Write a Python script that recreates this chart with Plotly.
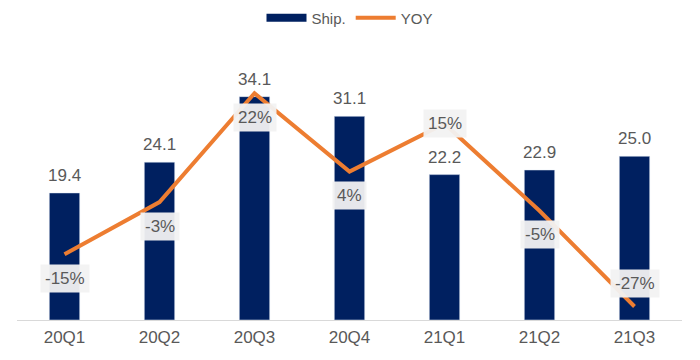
import plotly.graph_objects as go

quarters = ["20Q1", "20Q2", "20Q3", "20Q4", "21Q1", "21Q2", "21Q3"]
ship = [19.4, 24.1, 34.1, 31.1, 22.2, 22.9, 25.0]
yoy = [-15, -3, 22, 4, 15, -5, -27]
yoy_label_place = ["below", "below", "below", "below", "center", "below", "above"]

NAVY = "#002060"
ORANGE = "#ed7d31"
GRAY = "#595959"
FONT = "Liberation Sans, Arial, sans-serif"

fig = go.Figure()
fig.add_trace(go.Bar(x=quarters, y=ship, marker_color=NAVY, width=0.32,
                     showlegend=False, name="Ship.", yaxis="y"))
# legend proxy for ship (wide swatch)
fig.add_trace(go.Scatter(x=[None], y=[None], mode="lines", name="Ship.",
                         line=dict(color=NAVY, width=8), yaxis="y"))
fig.add_trace(go.Scatter(x=quarters, y=yoy, mode="lines", name="YOY",
                         line=dict(color=ORANGE, width=4), yaxis="y2"))

shift_map = {"below": -24, "center": 0, "above": 23}
annotations = []
for q, v in zip(quarters, ship):
    annotations.append(dict(x=q, y=v, xref="x", yref="y", text=f"{v:.1f}",
                            showarrow=False, yanchor="bottom", yshift=6,
                            font=dict(size=17, color=GRAY, family=FONT)))
for q, v, p in zip(quarters, yoy, yoy_label_place):
    annotations.append(dict(x=q, y=v, xref="x", yref="y2", text=f"{v}%",
                            showarrow=False, yanchor="middle", yshift=shift_map[p],
                            bgcolor="rgba(242,242,242,0.95)", borderpad=4,
                            font=dict(size=17, color=GRAY, family=FONT)))

fig.update_layout(
    width=700, height=360,
    margin=dict(l=9, r=26, t=32, b=48, autoexpand=False),
    paper_bgcolor="white", plot_bgcolor="white",
    font=dict(family=FONT, color=GRAY),
    xaxis=dict(showgrid=False, showline=True, linecolor="#d9d9d9", linewidth=1,
               ticks="", ticklabelstandoff=2,
               tickfont=dict(size=17, color=GRAY), fixedrange=True),
    yaxis=dict(range=[0, 42.75], visible=False, showgrid=False),
    yaxis2=dict(range=[-30.11, 34.25], overlaying="y", visible=False, showgrid=False),
    legend=dict(orientation="h", x=0.5, xanchor="center",
                yref="container", y=0.972, yanchor="middle",
                font=dict(size=15, color=GRAY), itemwidth=40),
    annotations=annotations,
    bargap=0.68,
)

fig.write_html("out.html")
